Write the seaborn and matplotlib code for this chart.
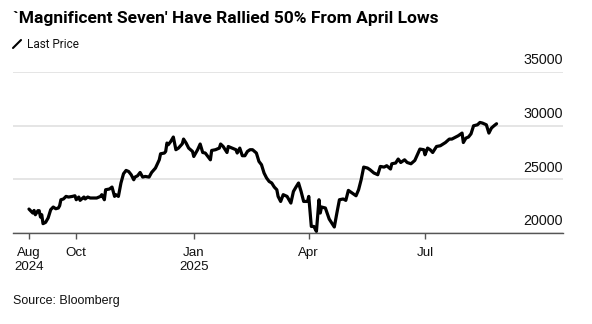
import matplotlib
matplotlib.use("Agg")
import matplotlib.pyplot as plt
import matplotlib.transforms as mtransforms
from matplotlib.lines import Line2D
import pandas as pd
import seaborn as sns

# Bloomberg Magnificent 7 index, last price
dates = [
    "2024-08-25", "2024-08-28", "2024-08-29", "2024-08-30", "2024-09-01", "2024-09-02",
    "2024-09-03", "2024-09-04", "2024-09-05", "2024-09-07", "2024-09-09", "2024-09-11",
    "2024-09-13", "2024-09-15", "2024-09-17", "2024-09-18", "2024-09-19", "2024-09-21",
    "2024-09-23", "2024-09-25", "2024-09-28", "2024-09-30", "2024-10-01", "2024-10-03",
    "2024-10-04", "2024-10-07", "2024-10-08", "2024-10-10", "2024-10-12", "2024-10-15",
    "2024-10-17", "2024-10-20", "2024-10-21", "2024-10-23", "2024-10-24", "2024-10-27",
    "2024-10-29", "2024-10-31", "2024-11-01", "2024-11-03", "2024-11-05", "2024-11-07",
    "2024-11-09", "2024-11-11", "2024-11-13", "2024-11-15", "2024-11-16", "2024-11-18",
    "2024-11-20", "2024-11-22", "2024-11-24", "2024-11-27", "2024-11-29", "2024-12-02",
    "2024-12-05", "2024-12-06", "2024-12-09", "2024-12-10", "2024-12-11", "2024-12-12",
    "2024-12-14", "2024-12-16", "2024-12-18", "2024-12-20", "2024-12-23", "2024-12-24",
    "2024-12-26", "2024-12-28", "2024-12-31", "2025-01-01", "2025-01-04", "2025-01-06",
    "2025-01-08", "2025-01-10", "2025-01-14", "2025-01-15", "2025-01-18", "2025-01-21",
    "2025-01-22", "2025-01-24", "2025-01-27", "2025-01-28", "2025-01-31", "2025-02-03",
    "2025-02-04", "2025-02-06", "2025-02-08", "2025-02-10", "2025-02-12", "2025-02-14",
    "2025-02-16", "2025-02-19", "2025-02-21", "2025-02-23", "2025-02-25", "2025-02-27",
    "2025-03-01", "2025-03-03", "2025-03-05", "2025-03-07", "2025-03-08", "2025-03-10",
    "2025-03-12", "2025-03-15", "2025-03-18", "2025-03-20", "2025-03-22", "2025-03-24",
    "2025-03-26", "2025-03-28", "2025-03-31", "2025-04-01", "2025-04-03", "2025-04-05",
    "2025-04-07", "2025-04-09", "2025-04-10", "2025-04-11", "2025-04-14", "2025-04-17",
    "2025-04-19", "2025-04-21", "2025-04-23", "2025-04-25", "2025-04-28", "2025-04-30",
    "2025-05-02", "2025-05-05", "2025-05-08", "2025-05-10", "2025-05-12", "2025-05-14",
    "2025-05-17", "2025-05-19", "2025-05-22", "2025-05-25", "2025-05-27", "2025-05-30",
    "2025-06-01", "2025-06-04", "2025-06-05", "2025-06-08", "2025-06-10", "2025-06-12",
    "2025-06-15", "2025-06-17", "2025-06-20", "2025-06-23", "2025-06-25", "2025-06-27",
    "2025-06-30", "2025-07-01", "2025-07-03", "2025-07-05", "2025-07-07", "2025-07-10",
    "2025-07-13", "2025-07-17", "2025-07-20", "2025-07-22", "2025-07-25", "2025-07-27",
    "2025-07-30", "2025-07-31", "2025-08-02", "2025-08-04", "2025-08-06", "2025-08-08",
    "2025-08-11", "2025-08-13", "2025-08-15", "2025-08-18", "2025-08-20", "2025-08-22",
    "2025-08-24", "2025-08-26",
]
last_price = [
    22230, 21860, 22100, 21700, 22080, 22080,
    21490, 21700, 20870, 20990, 21400, 22170,
    22420, 22260, 22330, 22540, 23100, 23170,
    23410, 23350, 23410, 23470, 23100, 23350,
    23040, 23350, 23170, 23350, 23260, 23260,
    23260, 23410, 23570, 23100, 24030, 24100,
    24280, 23410, 23570, 23410, 24660, 25520,
    25830, 25730, 25430, 24960, 25210, 25330,
    25640, 25210, 25270, 25210, 25640, 26050,
    26820, 27380, 27450, 27600, 28380, 28220,
    28530, 28940, 27760, 27910, 28310, 28750,
    28380, 27910, 27600, 27130, 27760, 28290,
    27500, 27450, 26820, 27690, 27760, 27910,
    28290, 28060, 27500, 28060, 27910, 27760,
    27450, 27910, 27200, 27200, 27600, 27760,
    27760, 27450, 26670, 26360, 25590, 25120,
    24800, 24660, 24280, 24030, 23410, 22940,
    23570, 23410, 22790, 23870, 24280, 24660,
    23870, 22940, 22940, 23410, 20610, 20610,
    20150, 23100, 21860, 22420, 22330, 21300,
    20930, 20560, 21860, 23100, 23170, 23040,
    23970, 23720, 23470, 24030, 24960, 26140,
    26050, 25890, 25590, 25430, 26200, 26140,
    26270, 25960, 26450, 26520, 26890, 26570,
    26820, 26570, 26450, 26760, 27290, 27820,
    27760, 27290, 27910, 27760, 27500, 28060,
    28130, 28430, 28750, 28750, 28940, 29060,
    29310, 28430, 28840, 28940, 29240, 29990,
    30080, 30300, 30240, 30080, 29310, 29780,
    29990, 30180,
]

y_ticks = [20000, 25000, 30000, 35000]
x_ticks = ["2024-08-25", "2024-10-01", "2025-01-01", "2025-04-01", "2025-07-01"]
x_tick_labels = ["Aug\n2024", "Oct", "Jan\n2025", "Apr", "Jul"]

title = "`Magnificent Seven' Have Rallied 50% From April Lows"
legend_label = "Last Price"
source = "Source: Bloomberg"

df = pd.DataFrame({"date": pd.to_datetime(dates), "price": last_price})

sns.set_theme(style="white")
plt.rcParams["font.family"] = ["Liberation Sans", "DejaVu Sans"]

fig = plt.figure(figsize=(5.92, 3.24), dpi=100)
ax = fig.add_axes([13 / 592, 1 - 233 / 324, 550 / 592, 161 / 324])

sns.lineplot(data=df, x="date", y="price", ax=ax, color="black", linewidth=2.3,
             solid_joinstyle="round", solid_capstyle="round")

ax.set_ylim(20000, 35000)
ax.set_xlim(pd.Timestamp("2024-08-12 12:00"), pd.Timestamp("2025-10-17"))

# horizontal grid
ax.set_yticks(y_ticks)
ax.yaxis.grid(True, color="#e3e3e3", linewidth=1.3)
ax.xaxis.grid(False)
ax.set_axisbelow(True)

for side in ["top", "left", "right"]:
    ax.spines[side].set_visible(False)
ax.spines["bottom"].set_color("#555555")
ax.spines["bottom"].set_linewidth(1.0)

# y labels sit inside the plot, right aligned, just above their gridline
ax.yaxis.tick_right()
ax.tick_params(axis="y", length=0, pad=0, labelsize=10.3, labelcolor="#111111")
offset = mtransforms.ScaledTranslation(0, 3.3 / 72, fig.dpi_scale_trans)
for lbl in ax.get_yticklabels():
    lbl.set_horizontalalignment("right")
    lbl.set_verticalalignment("bottom")
    lbl.set_transform(lbl.get_transform() + offset)
ax.yaxis.set_major_formatter(matplotlib.ticker.FuncFormatter(lambda v, p: f"{int(v)}"))

ax.set_xticks(pd.to_datetime(x_ticks))
ax.set_xticklabels(x_tick_labels)
ax.tick_params(axis="x", bottom=True, length=4, width=1, color="#555555", pad=6,
               labelsize=9.6, labelcolor="#111111")
for lbl in ax.get_xticklabels():
    lbl.set_linespacing(1.2)

ax.set_xlabel("")
ax.set_ylabel("")

fig.text(13 / 592, 1 - 11.5 / 324, title, ha="left", va="top", fontsize=12.5,
         fontweight="bold", color="black", family=["Roboto", "DejaVu Sans"])

# legend: slash icon + label
fig.add_artist(Line2D([13 / 592, 21 / 592], [1 - 48 / 324, 1 - 40 / 324],
                      color="black", linewidth=1.5, transform=fig.transFigure))
fig.text(27 / 592, 1 - 44 / 324, legend_label, ha="left", va="center", fontsize=8.5,
         color="#111111", family=["Roboto", "DejaVu Sans"])

fig.text(13 / 592, 1 - 301 / 324, source, ha="left", va="center", fontsize=9,
         color="#111111")

fig.savefig("out.png", dpi=100)
